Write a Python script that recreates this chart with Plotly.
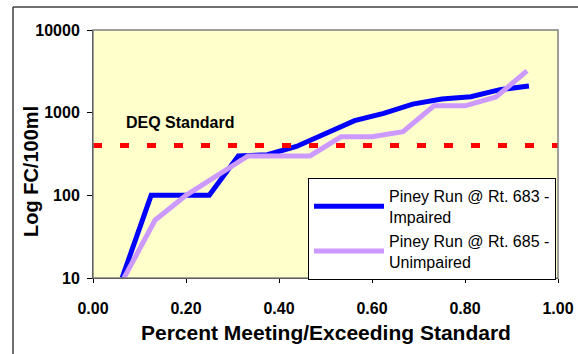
import plotly.graph_objects as go

# Data
impaired_x = [0.0625, 0.125, 0.1875, 0.25, 0.3125, 0.375, 0.4375, 0.5, 0.5625,
              0.625, 0.6875, 0.75, 0.8125, 0.875, 0.9375]
impaired_fc = [10, 100, 100, 100, 300, 310, 390, 560, 800, 980, 1270, 1460, 1560, 1900, 2100]

unimpaired_x = [0.0667, 0.1333, 0.2, 0.2667, 0.3333, 0.4, 0.4667, 0.5333, 0.6,
                0.6667, 0.7333, 0.8, 0.8667, 0.9333]
unimpaired_fc = [10, 50, 100, 175, 300, 300, 300, 510, 510, 590, 1210, 1210, 1550, 3200]

deq_x = [0.0, 1.0]
deq_standard = 400

x_ticks = [0.0, 0.2, 0.4, 0.6, 0.8, 1.0]
x_tick_labels = ["0.00", "0.20", "0.40", "0.60", "0.80", "1.00"]
y_ticks = [10, 100, 1000, 10000]
y_tick_labels = ["10", "100", "1000", "10000"]

FONT = "Arial, Liberation Sans, sans-serif"

fig = go.Figure()
fig.add_trace(go.Scatter(
    x=impaired_x, y=impaired_fc, mode="lines",
    name="Piney Run @ Rt. 683 -<br>Impaired",
    line=dict(color="#0000FF", width=5),
))
fig.add_trace(go.Scatter(
    x=unimpaired_x, y=unimpaired_fc, mode="lines",
    name="Piney Run @ Rt. 685 -<br>Unimpaired",
    line=dict(color="#CC99FF", width=5),
))
fig.add_trace(go.Scatter(
    x=deq_x, y=[deq_standard] * len(deq_x), mode="lines",
    name="DEQ Standard", showlegend=False,
    line=dict(color="#FF0000", width=5, dash="9px,18px"),
))

bx = (13 - 93) / 465   # outer border left edge (paper units)
by = (278 - 7) / 248   # outer border top edge (paper units)

fig.update_layout(
    width=578, height=354,
    margin=dict(l=93, r=20, t=30, b=76, autoexpand=False),
    paper_bgcolor="white",
    plot_bgcolor="#FFFFCC",
    font=dict(family=FONT, color="black"),
    showlegend=True,
    legend=dict(
        x=(308 - 93) / 465, y=(278 - 178) / 248,
        xanchor="left", yanchor="top",
        bgcolor="white", bordercolor="black", borderwidth=1,
        font=dict(family=FONT, size=16, color="black"),
        tracegroupgap=2, itemwidth=70,
    ),
    xaxis=dict(
        range=[0, 1], tickvals=x_ticks, ticktext=x_tick_labels,
        showgrid=False, zeroline=False,
        showline=True, linecolor="black", linewidth=1,
        ticks="outside", ticklen=4, tickcolor="black",
        tickfont=dict(family=FONT, size=16, weight="bold"),
        ticklabelstandoff=12,
    ),
    yaxis=dict(
        type="log", range=[1, 4], tickvals=y_ticks, ticktext=y_tick_labels,
        showgrid=False, zeroline=False,
        showline=True, linecolor="black", linewidth=1,
        ticks="outside", ticklen=5, tickcolor="black",
        tickfont=dict(family=FONT, size=16, weight="bold"),
        ticklabelstandoff=4,
    ),
    shapes=[
        # outer chart border (top and left edges visible)
        dict(type="line", xref="paper", yref="paper", x0=bx, x1=1.2, y0=by, y1=by,
             line=dict(color="#404040", width=1.5)),
        dict(type="line", xref="paper", yref="paper", x0=bx, x1=bx, y0=by, y1=-0.5,
             line=dict(color="#404040", width=1.5)),
        # plot-area border (gray)
        dict(type="rect", xref="paper", yref="paper", x0=0, y0=0, x1=1, y1=1,
             line=dict(color="#808080", width=1.5), layer="above"),
    ],
    annotations=[
        dict(text="DEQ Standard", xref="paper", yref="paper",
             x=(180 - 93) / 465, y=(278 - 122) / 248, xanchor="center", yanchor="middle",
             showarrow=False, font=dict(family=FONT, size=16, weight="bold")),
        dict(text="Log FC/100ml", xref="paper", yref="paper",
             x=(31 - 93) / 465, y=(278 - 172) / 248, xanchor="center", yanchor="middle",
             textangle=-90, showarrow=False,
             font=dict(family=FONT, size=20, weight="bold")),
        dict(text="Percent Meeting/Exceeding Standard", xref="paper", yref="paper",
             x=0.5, y=(278 - 332) / 248, xanchor="center", yanchor="middle",
             showarrow=False, font=dict(family=FONT, size=21, weight="bold")),
    ],
)

fig.write_html("out.html", config={"displayModeBar": False},
               post_script="document.body.style.margin='0';")
